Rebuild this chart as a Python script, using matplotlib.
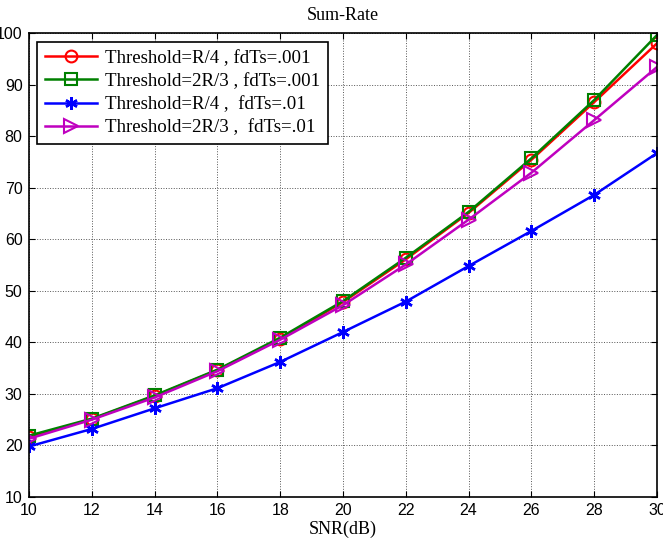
import numpy as np
import matplotlib as mpl
import matplotlib.pyplot as plt

mpl.rcParams['xtick.direction'] = 'in'
mpl.rcParams['ytick.direction'] = 'in'
mpl.rcParams['xtick.top'] = True
mpl.rcParams['ytick.right'] = True
mpl.rcParams['font.family'] = 'Liberation Sans'

# ===================== Data =====================
snr = [10, 12, 14, 16, 18, 20, 22, 24, 26, 28, 30]
r4_001 = [21.6, 25.1, 29.6, 34.6, 40.7, 47.8, 56.1, 65.1, 75.4, 86.6, 98.0]
r23_001 = [21.9, 25.2, 29.7, 34.7, 40.9, 48.0, 56.4, 65.3, 75.7, 87.0, 99.6]
r4_01 = [19.8, 23.2, 27.2, 31.1, 36.2, 42.0, 47.9, 54.8, 61.6, 68.6, 76.7]
r23_01 = [21.3, 25.0, 29.3, 34.4, 40.5, 47.2, 55.1, 63.8, 72.9, 83.1, 93.4]

labels = ["Threshold=R/4 , fdTs=.001",
          "Threshold=2R/3 , fdTs=.001",
          "Threshold=R/4 ,  fdTs=.01",
          "Threshold=2R/3 ,  fdTs=.01"]

# ===================== Plot =====================
fig = plt.figure(figsize=(6.63, 5.46), dpi=100)
ax = fig.add_axes([29 / 663, 1 - 497 / 546, 628 / 663, 464 / 546])

lw = 1.8
ax.plot(snr, r4_001, color='#ff0000', lw=lw, marker='o', ms=8.5, mfc='none', mew=1.5, label=labels[0])
ax.plot(snr, r23_001, color='#008000', lw=lw, marker='s', ms=8.5, mfc='none', mew=1.5, label=labels[1])
ax.plot(snr, r4_01, color='#0000ff', lw=lw, marker=(6, 2, 0), ms=9, mew=1.8, label=labels[2])
ax.plot(snr, r23_01, color='#bf00bf', lw=lw, marker='>', ms=10, mfc='none', mew=1.5, label=labels[3])

ax.set_xlim(10, 30)
ax.set_ylim(10, 100)
ax.set_xticks(snr)
ax.set_yticks(np.arange(10, 101, 10))
ax.tick_params(labelsize=11.5, length=4, width=0.8, colors='black')
ax.tick_params(axis='y', pad=4.6)
ax.tick_params(axis='x', pad=4.5)
ax.grid(True, color='#555555', linestyle=':', linewidth=0.7)
for s in ax.spines.values():
    s.set_linewidth(1.2)

ax.set_title("Sum-Rate", fontfamily='Liberation Serif', fontsize=13, pad=9)
ax.set_xlabel("SNR(dB)", fontfamily='Liberation Serif', fontsize=13, labelpad=2)

leg = ax.legend(loc='upper left', bbox_to_anchor=(0.0127, 0.9806), borderaxespad=0,
                fancybox=False, edgecolor='black', framealpha=1, handlelength=2.8,
                prop={'family': 'Liberation Serif', 'size': 13.6},
                borderpad=0.4, labelspacing=0.32, handletextpad=0.4)
leg.get_frame().set_linewidth(1.2)

fig.savefig("out.png", dpi=100)
